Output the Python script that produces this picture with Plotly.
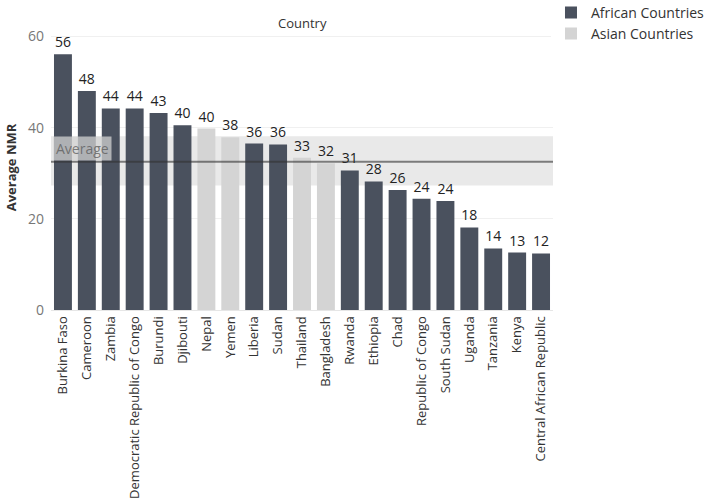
import plotly.graph_objects as go

countries = ["Burkina Faso", "Cameroon", "Zambia", "Democratic Republic of Congo", "Burundi",
             "Djibouti", "Nepal", "Yemen", "Liberia", "Sudan", "Thailand", "Bangladesh",
             "Rwanda", "Ethiopia", "Chad", "Republic of Congo", "South Sudan", "Uganda",
             "Tanzania", "Kenya", "Central African Republic"]
nmr = [56.1, 48.0, 44.2, 44.2, 43.2, 40.5, 39.8, 37.9, 36.5, 36.3, 33.4, 32.2,
       30.6, 28.2, 26.3, 24.4, 23.9, 18.1, 13.5, 12.6, 12.4]
region = ["Africa", "Africa", "Africa", "Africa", "Africa", "Africa", "Asia", "Asia",
          "Africa", "Africa", "Asia", "Asia", "Africa", "Africa", "Africa", "Africa",
          "Africa", "Africa", "Africa", "Africa", "Africa"]
band_low, band_high = 27.3, 38.1
y_ticks = [0, 20, 40, 60]

DARK = "#4a515e"
LIGHT = "#d4d4d4"
FONT = "Open Sans"

average = sum(nmr) / len(nmr)

fig = go.Figure()
for key, name, color in [("Africa", "African Countries", DARK), ("Asia", "Asian Countries", LIGHT)]:
    xs = [c for c, r in zip(countries, region) if r == key]
    ys = [v for v, r in zip(nmr, region) if r == key]
    fig.add_trace(go.Bar(
        x=xs, y=ys, name=name, marker=dict(color=color, line=dict(width=0)),
        text=[f"{v:.0f}" for v in ys], textposition="outside",
        textfont=dict(family=FONT, size=14, color="#222222"),
        cliponaxis=False, hoverinfo="x+y",
    ))

fig.add_shape(type="rect", xref="paper", yref="y", x0=0, x1=1, y0=band_low, y1=band_high,
              fillcolor="#e9e9e9", line=dict(width=0), layer="below")
fig.add_shape(type="line", xref="paper", yref="y", x0=0, x1=1, y0=average, y1=average,
              line=dict(color="rgba(50,50,50,0.6)", width=2), layer="above")
fig.add_annotation(xref="paper", yref="y", x=0.004, y=average, xanchor="left", yanchor="bottom",
                   text="Average", showarrow=False, yshift=1,
                   font=dict(family=FONT, size=14, color="rgba(90,90,90,0.75)"),
                   bgcolor="rgba(210,210,210,0.75)", borderpad=2)
fig.add_annotation(xref="paper", yref="paper", x=0.5, y=1, yshift=13, text="Country",
                   showarrow=False, font=dict(family=FONT, size=13, color="#333333"))

fig.update_layout(
    width=709, height=500,
    margin=dict(l=51, r=156, t=25, b=190, autoexpand=False),
    plot_bgcolor="white", paper_bgcolor="white",
    barmode="overlay", bargap=0.25,
    font=dict(family=FONT, size=13, color="#333333"),
    showlegend=True,
    legend=dict(x=0.996, y=1.099, xanchor="left", yanchor="top",
                font=dict(family=FONT, size=14, color="#333333"),
                itemwidth=30, tracegroupgap=2, traceorder="normal"),
    xaxis=dict(categoryorder="array", categoryarray=countries, tickangle=-90,
               tickfont=dict(family=FONT, size=13, color="#333333"),
               showgrid=False, showline=True, linecolor="#e6e6e6", ticks="",
               automargin=False, range=[-0.5, len(countries) - 0.5]),
    yaxis=dict(range=[0, 62.5], tickvals=y_ticks, showgrid=True, gridcolor="#f0f0f0",
               zeroline=False, ticks="", ticklabelstandoff=6, automargin=False,
               tickfont=dict(family=FONT, size=14, color="#777777"),
               title=dict(text="<b>Average NMR</b>", standoff=8,
                          font=dict(family=FONT, size=13, color="#333333"))),
)

fig.write_html("out.html", config={"displayModeBar": False},
               post_script="document.body.style.margin='0';")
